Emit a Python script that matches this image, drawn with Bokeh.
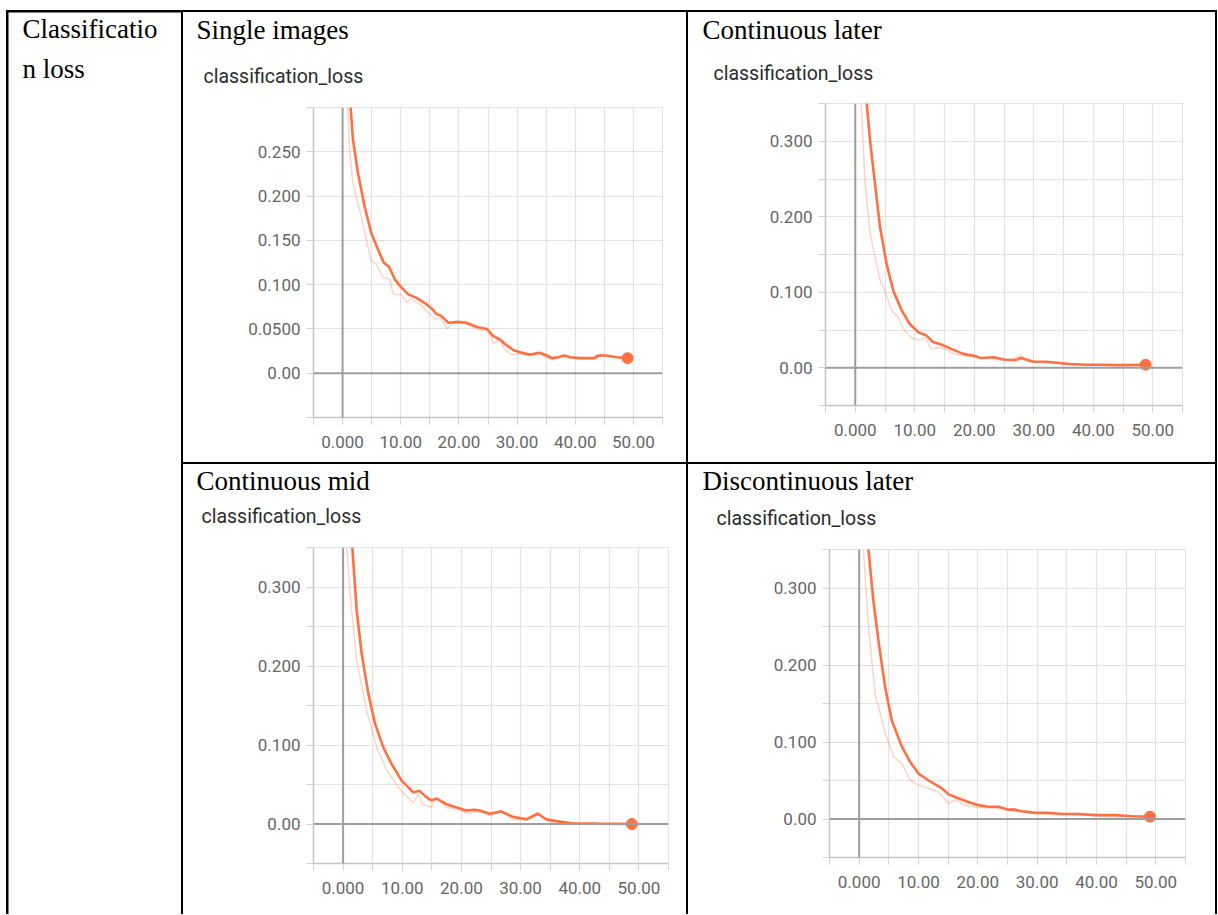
from bokeh.plotting import figure
from bokeh.layouts import row, column
from bokeh.models import Label, FixedTicker, Range1d, Span
from bokeh.embed import file_html
from bokeh.resources import INLINE

SERIF = "Liberation Serif"
SANS = "Roboto"
ORANGE = "#ff7043"

# ---- data ----
row_label = ["Classificatio", "n loss"]
titles = ["Single images", "Continuous later", "Continuous mid", "Discontinuous later"]
metric = "classification_loss"

x_ticks = [-5, 0, 5, 10, 15, 20, 25, 30, 35, 40, 45, 50, 55]
x_labels = ["", "0.000", "", "10.00", "", "20.00", "", "30.00", "", "40.00", "", "50.00", ""]
y_ticks_a = [-0.05, 0.0, 0.05, 0.1, 0.15, 0.2, 0.25, 0.3]
y_labels_a = ["", "0.00", "0.0500", "0.100", "0.150", "0.200", "0.250", ""]
y_ticks_b = [-0.05, 0.0, 0.05, 0.1, 0.15, 0.2, 0.25, 0.3, 0.35]
y_labels_b = ["", "0.00", "", "0.100", "", "0.200", "", "0.300", ""]

# Single images
x1s = [1.0, 1.38, 1.78, 2.64, 3.8, 4.94, 6.4, 7.07, 8.0, 8.97, 10.1, 11.3, 12.7, 14.4, 15.5, 16.1, 16.9, 18.2, 19.9, 21.3, 22.8, 23.3, 24.8, 25.9, 27.1, 27.9, 29.4, 30.8, 32.2, 34.0, 35.1, 36.0, 37.1, 38.0, 39.1, 40.9, 43.2, 44.0, 45.2, 47.2, 49.0]
y1s = [0.36, 0.30, 0.264, 0.226, 0.188, 0.158, 0.135, 0.125, 0.12, 0.106, 0.097, 0.089, 0.085, 0.078, 0.072, 0.067, 0.065, 0.057, 0.058, 0.057, 0.053, 0.052, 0.050, 0.042, 0.038, 0.033, 0.026, 0.023, 0.021, 0.023, 0.020, 0.017, 0.018, 0.020, 0.018, 0.017, 0.017, 0.020, 0.020, 0.018, 0.017]
x1r = [0.5, 1.2, 1.78, 3.2, 4.9, 5.8, 7.0, 8.1, 8.7, 10.1, 11.0, 11.8, 13.3, 15.9, 16.8, 18.0, 19.1, 20.8, 22.5, 23.7, 25.1, 25.9, 27.0, 27.9, 29.0, 30.5, 32.0, 33.5, 35.0, 36.0, 37.5, 38.5, 40.0, 42.0, 43.5, 44.5, 46.0, 48.0, 49.0]
y1r = [0.36, 0.252, 0.214, 0.177, 0.127, 0.123, 0.108, 0.106, 0.089, 0.089, 0.080, 0.084, 0.078, 0.061, 0.063, 0.050, 0.057, 0.057, 0.052, 0.048, 0.050, 0.033, 0.038, 0.027, 0.021, 0.022, 0.020, 0.024, 0.018, 0.015, 0.019, 0.021, 0.017, 0.016, 0.016, 0.021, 0.019, 0.017, 0.016]

# Continuous later
x2s = [1.6, 1.94, 2.5, 3.33, 4.17, 5.28, 6.4, 7.8, 9.17, 10.6, 11.9, 13.1, 14.7, 16.7, 18.3, 20.0, 21.1, 23.3, 25.0, 26.9, 27.8, 30.0, 32.2, 36.1, 38.9, 41.7, 44.4, 48.8]
y2s = [0.42, 0.349, 0.300, 0.243, 0.186, 0.137, 0.102, 0.076, 0.058, 0.047, 0.043, 0.034, 0.030, 0.023, 0.018, 0.016, 0.013, 0.014, 0.011, 0.010, 0.013, 0.008, 0.008, 0.005, 0.004, 0.004, 0.0035, 0.004]
x2r = [0.7, 1.0, 1.67, 2.5, 4.2, 5.0, 6.1, 7.2, 8.3, 9.4, 10.8, 11.7, 12.8, 14.4, 16.7, 20.0, 23.0, 26.0, 27.8, 29.0, 32.0, 36.0, 40.0, 44.0, 48.8]
y2r = [0.45, 0.349, 0.243, 0.177, 0.115, 0.102, 0.076, 0.067, 0.049, 0.040, 0.036, 0.040, 0.025, 0.027, 0.018, 0.014, 0.012, 0.009, 0.017, 0.008, 0.007, 0.004, 0.004, 0.003, 0.003]

# Continuous mid
x3s = [1.2, 1.57, 2.3, 3.15, 4.27, 5.4, 6.8, 8.2, 9.9, 11.85, 12.9, 14.1, 14.9, 15.8, 17.5, 19.2, 20.8, 22.2, 23.1, 24.8, 26.7, 28.7, 31.0, 32.9, 34.3, 36.6, 38.8, 42.8, 48.8]
y3s = [0.42, 0.349, 0.270, 0.215, 0.165, 0.127, 0.097, 0.076, 0.055, 0.040, 0.042, 0.034, 0.030, 0.032, 0.025, 0.021, 0.017, 0.018, 0.017, 0.013, 0.016, 0.009, 0.006, 0.013, 0.006, 0.003, 0.001, 0.0005, 0.0]
x3r = [0.3, 0.6, 1.46, 2.3, 4.0, 5.7, 7.4, 9.6, 11.85, 12.7, 13.5, 14.9, 15.8, 17.5, 19.5, 21.0, 23.0, 25.0, 26.7, 28.5, 31.0, 33.0, 34.5, 37.0, 40.0, 45.0, 48.8]
y3r = [0.45, 0.349, 0.27, 0.207, 0.143, 0.097, 0.068, 0.044, 0.027, 0.038, 0.025, 0.021, 0.034, 0.021, 0.019, 0.013, 0.016, 0.010, 0.017, 0.006, 0.005, 0.015, 0.003, 0.001, 0.0005, 0.0, 0.0]

# Discontinuous later
x4s = [1.2, 1.57, 2.4, 3.26, 4.38, 5.5, 7.2, 8.6, 10.0, 11.7, 13.9, 15.1, 16.7, 18.4, 20.1, 21.8, 23.5, 25.2, 26.0, 27.4, 29.7, 31.9, 34.2, 37.0, 39.8, 43.1, 46.0, 49.0]
y4s = [0.42, 0.349, 0.283, 0.231, 0.171, 0.128, 0.094, 0.074, 0.059, 0.050, 0.040, 0.032, 0.027, 0.022, 0.018, 0.016, 0.016, 0.012, 0.0125, 0.010, 0.008, 0.008, 0.0065, 0.0065, 0.005, 0.005, 0.0035, 0.003]
x4r = [0.4, 0.73, 1.57, 2.7, 4.4, 5.8, 7.2, 8.6, 10.0, 11.7, 13.4, 15.1, 16.2, 17.9, 20.0, 23.0, 26.0, 29.0, 33.0, 37.0, 41.0, 45.0, 49.0]
y4r = [0.45, 0.349, 0.249, 0.162, 0.111, 0.081, 0.072, 0.050, 0.044, 0.040, 0.035, 0.020, 0.025, 0.018, 0.015, 0.014, 0.010, 0.008, 0.006, 0.006, 0.004, 0.004, 0.003]


def text_fig(w, h, items):
    f = figure(width=w, height=h, x_range=Range1d(0, 1), y_range=Range1d(0, 1),
               x_axis_type=None, y_axis_type=None, output_backend="svg",
               toolbar_location=None, min_border=0, outline_line_color=None,
               frame_align=False)
    f.grid.visible = False
    f.border_fill_color = "white"
    f.background_fill_color = "white"
    for (x, y, txt, font, size, color) in items:
        f.add_layout(Label(x=x, y=y, x_units="canvas", y_units="canvas", text=txt,
                           text_font=font, text_font_size=size, text_color=color,
                           text_baseline="middle", text_align="left"))
    return f


def chart(w, h, T, borders, ytop, yt, yl, title, tpos, mpos, xs, ys, xr, yr):
    bl, br, bt, bb = borders
    head = text_fig(w, T, [(tpos[0], tpos[1], title, SERIF, "27px", "black"),
                           (mpos[0], mpos[1], metric, SANS, "19.5px", "#2b2b2b")])
    p = figure(width=w, height=h - T, x_range=Range1d(-5, 55), y_range=Range1d(-0.05, ytop),
               output_backend="svg", toolbar_location=None, frame_align=False,
               min_border_left=bl, min_border_right=br, min_border_top=bt - T, min_border_bottom=bb)
    p.background_fill_color = "white"
    p.border_fill_color = "white"
    p.outline_line_color = "#e2e2e2"
    for ax, ticks, labels in ((p.xaxis[0], x_ticks, x_labels), (p.yaxis[0], yt, yl)):
        ax.ticker = FixedTicker(ticks=ticks)
        ax.major_label_overrides = {t: l for t, l in zip(ticks, labels)}
        ax.axis_line_color = "#c4c4c4"
        ax.axis_line_width = 1.5
        ax.major_tick_line_color = "#d4d4d4"
        ax.major_tick_out = 7
        ax.major_tick_in = 0
        ax.minor_tick_line_color = None
        ax.major_label_text_font = SANS
        ax.major_label_text_font_size = "17px"
        ax.major_label_text_color = "#666666"
    p.xaxis.major_label_standoff = 11
    p.yaxis.major_label_standoff = 6
    p.xgrid.ticker = FixedTicker(ticks=x_ticks)
    p.ygrid.ticker = FixedTicker(ticks=yt)
    p.grid.grid_line_color = "#e2e2e2"
    p.grid.grid_line_width = 1.2
    p.add_layout(Span(location=0, dimension="height", line_color="#9e9e9e", line_width=2))
    p.add_layout(Span(location=0, dimension="width", line_color="#9e9e9e", line_width=2))
    p.line(xr, yr, line_color=ORANGE, line_alpha=0.3, line_width=1.5)
    p.line(xs, ys, line_color=ORANGE, line_width=2.6)
    p.scatter(xs[-1:], ys[-1:], size=11, fill_color=ORANGE, line_color=ORANGE)
    return column(head, p, spacing=0, styles={"background-color": "white"})


f1 = chart(503, 450, 85, (130, 24, 95, 45), 0.3, y_ticks_a, y_labels_a, titles[0], (13, 17), (20, 64), x1s, y1s, x1r, y1r)
f2 = chart(527, 450, 81, (137, 33, 91, 57), 0.35, y_ticks_b, y_labels_b, titles[1], (14, 17), (25, 61), x2s, y2s, x2r, y2r)
f3 = chart(503, 450, 73, (130, 18, 83, 51), 0.35, y_ticks_b, y_labels_b, titles[2], (13, 16), (18, 52), x3s, y3s, x3r, y3r)
f4 = chart(527, 450, 75, (141, 30, 85, 57), 0.35, y_ticks_b, y_labels_b, titles[3], (14, 16), (28, 54), x4s, y4s, x4r, y4r)

lab = text_fig(173, 902, [(14, 16, row_label[0], SERIF, "27px", "black"),
                          (14, 56, row_label[1], SERIF, "27px", "black")])

grid = column(row(f1, f2, spacing=2), row(f3, f4, spacing=2), spacing=2)
layout = row(lab, grid, spacing=2,
             styles={"background-color": "black", "padding": "2px 2px 0px 2px",
                     "margin-top": "10px", "margin-left": "6px"})

open("out.html", "w").write(file_html(layout, INLINE))
